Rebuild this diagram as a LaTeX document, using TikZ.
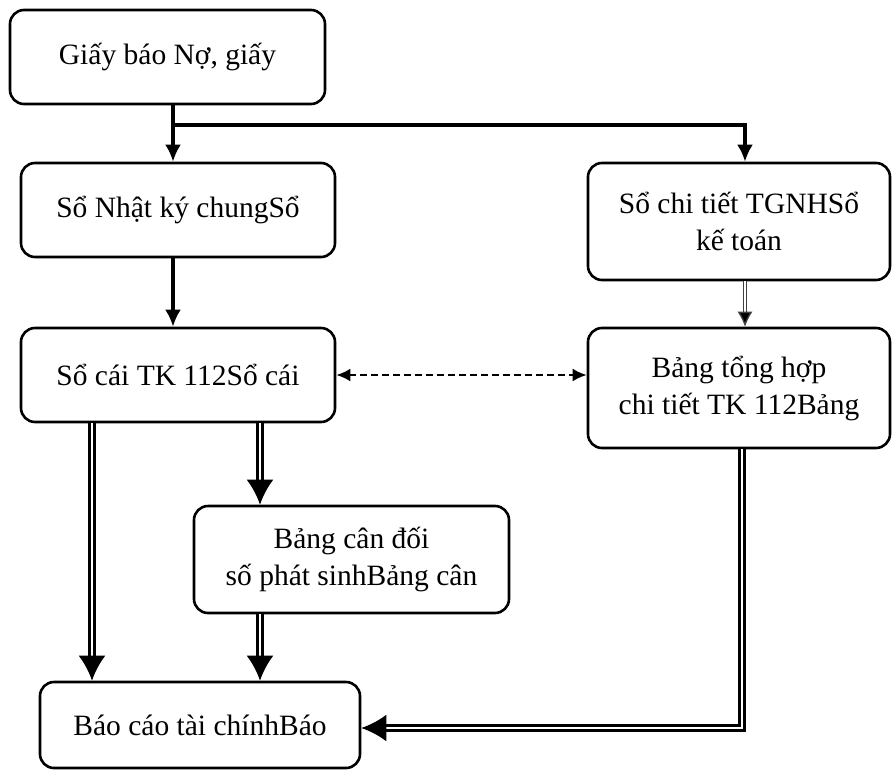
\documentclass[tikz,border=0pt]{standalone}
\usepackage{fontspec}
\setmainfont{Liberation Serif}
\usepackage{tikz}
\usetikzlibrary{positioning,arrows.meta,calc}
\tikzset{
    box/.style = {
        draw,
        shape=rectangle,
        rounded corners=14pt,
        line width=2.6pt,
        align=center,
        inner sep=0pt,
        font=\fontsize{29.5}{37}\selectfont
    },
    line/.style = {
        draw,
        line width=3.4pt,
        -{Latex[length=17pt,width=16pt]}
    },
    dline/.style = {
        draw,
        line width=2.8pt,
        double=white,
        double distance=2.8pt,
        -{Latex[length=25pt,width=27pt]}
    },
    thindline/.style = {
        draw=black!75,
        line width=1.3pt,
        double=white,
        double distance=1.8pt,
        -{Latex[length=15pt,width=15pt,fill=black]}
    },
    link/.style = {
        draw,
        line width=2.4pt,
        dash pattern=on 7pt off 4pt,
        {Latex[length=14pt,width=13pt]}-{Latex[length=14pt,width=13pt]}
    },
}

\begin{document}
\begin{tikzpicture}[x=1pt,y=-1pt]
            \useasboundingbox (0,0) rectangle (895,774);

            \node[box, minimum width=315pt, minimum height=94pt]  (top)     at (167.5, 57)   {Giấy báo Nợ, giấy};
            \node[box, minimum width=314pt, minimum height=94pt]  (nhatky)  at (178, 210)    {Sổ Nhật ký chungSổ};
            \node[box, minimum width=302pt, minimum height=117pt] (chitiet) at (739, 221.5)  {Sổ chi tiết TGNHSổ\\kế toán};
            \node[box, minimum width=314pt, minimum height=94pt]  (socai)   at (178, 375)    {Sổ cái TK 112Sổ cái};
            \node[box, minimum width=302pt, minimum height=120pt] (tonghop) at (739, 388)    {Bảng tổng hợp\\chi tiết TK 112Bảng};
            \node[box, minimum width=315pt, minimum height=107pt] (candoi)  at (351.5, 559.5) {Bảng cân đối\\số phát sinhBảng cân};
            \node[box, minimum width=320pt, minimum height=86pt]  (baocao)  at (200, 725)    {Báo cáo tài chínhBáo};

            % columns of the connectors
            \coordinate (xa)   at (92, 0);
            \coordinate (xb)   at (260, 0);
            \coordinate (xc)   at (173, 0);
            \coordinate (xd)   at (745, 0);
            \coordinate (xe)   at (742, 0);
            \coordinate (fork) at (173, 125);

            \path[line] (top.south -| xc) -- (nhatky.north -| xc);
            \path[line] (fork) -| (chitiet.north -| xd);
            \path[line] (nhatky.south -| xc) -- (socai.north -| xc);
            \path[thindline] (chitiet.south -| xd) -- (tonghop.north -| xd);
            \path[link] (socai.east) -- (socai.east -| tonghop.west);

            \path[dline] (socai.south -| xa) -- (baocao.north -| xa);
            \path[dline] (socai.south -| xb) -- (candoi.north -| xb);
            \path[dline] (candoi.south -| xb) -- (baocao.north -| xb);
            \path[dline] (tonghop.south -| xe) |- ($(baocao.east)+(0,3)$);
        \end{tikzpicture}
\end{document}
